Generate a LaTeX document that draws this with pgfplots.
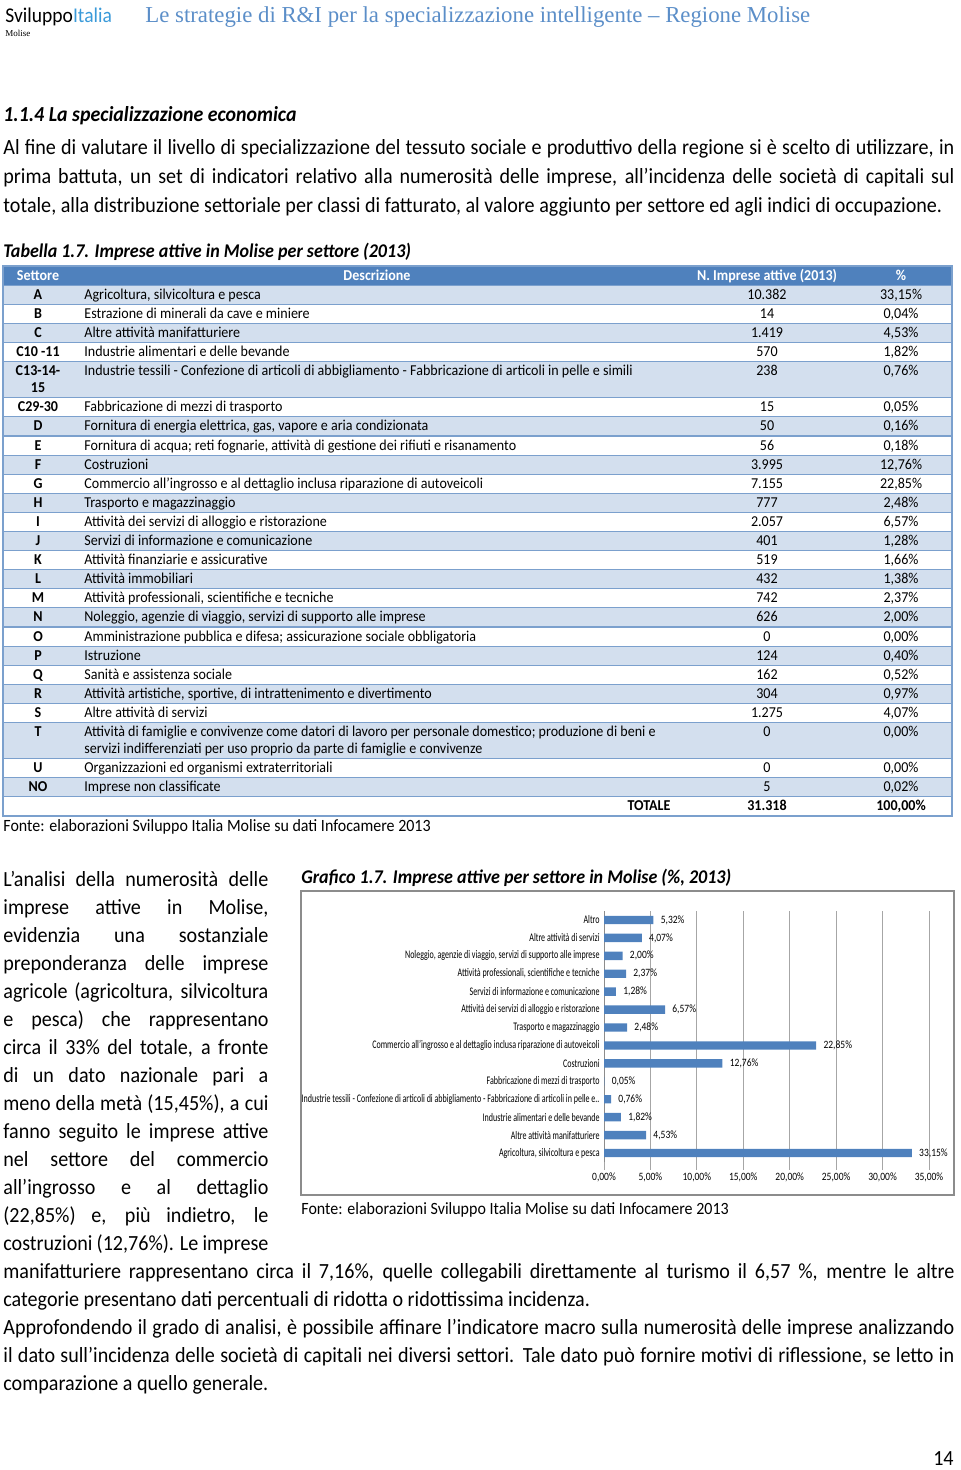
\documentclass[border=0pt]{standalone}
\usepackage{fontspec}
\setmainfont{Carlito}[FakeStretch=0.93]
\newfontfamily\chartfont{Carlito}[FakeStretch=0.69]
\newfontfamily\chartnumfont{Carlito}[FakeStretch=0.85]
\newfontfamily\seriffont{Liberation Serif}
\usepackage{pgfplots}
\usepackage{pgfplotstable}
\pgfplotsset{compat=1.18}
\definecolor{barblue}{HTML}{4F81BD}
\definecolor{bandblue}{HTML}{D3DFEE}
\definecolor{lineblue}{HTML}{7BA0CD}
\definecolor{titleblue}{HTML}{5B8EC8}
\definecolor{italiablue}{HTML}{3A9AD9}
\definecolor{framegray}{HTML}{8C8C8C}
\definecolor{gridgray}{HTML}{A6A6A6}

\newcommand\bodyfont{\fontsize{10.8pt}{12.5pt}\selectfont}
\newcommand\capfont{\fontsize{9.7pt}{11pt}\selectfont}
\newcommand\tabfont{\fontsize{7.55pt}{9pt}\selectfont}
\newcommand\fontefont{\fontsize{8.6pt}{10pt}\selectfont}
\newcommand\cfont{\chartfont\fontsize{5.8pt}{6.5pt}\selectfont}
\newcommand\cnfont{\chartnumfont\fontsize{5.6pt}{6.5pt}\selectfont}

\newcommand\jl[4]{\node[anchor=base west,inner sep=0pt,font=\bodyfont] at (#1,#2) {\makebox[#3][s]{#4}};}
\newcommand\tl[3]{\node[anchor=base west,inner sep=0pt,font=\bodyfont] at (#1,#2) {#3};}
\newcommand\trow[5]{%
  \node[anchor=base,inner sep=0pt,font=\tabfont\bfseries] at (38,#1) {#2};
  \node[anchor=base west,inner sep=0pt,font=\tabfont] at (84,#1) {#3};
  \node[anchor=base,inner sep=0pt,font=\tabfont] at (767,#1) {#4};
  \node[anchor=base,inner sep=0pt,font=\tabfont] at (901,#1) {#5};}

\pgfplotstableread{
i v
0 33.15
1 4.53
2 1.82
3 0.76
4 0.05
5 12.76
6 22.85
7 2.48
8 6.57
9 1.28
10 2.37
11 2.00
12 4.07
13 5.32
}\datatab

\begin{document}
\begin{tikzpicture}[x=0.5pt,y=-0.5pt]
\path[use as bounding box] (0,0) rectangle (960,1470);

% header
\node[anchor=base west,inner sep=0pt,font=\fontsize{10.5pt}{12pt}\selectfont] at (5,23) {Sviluppo\textcolor{italiablue}{Italia}};
\node[anchor=base west,inner sep=0pt,font=\seriffont\fontsize{4.5pt}{5pt}\selectfont] at (5,36.5) {Molise};
\node[anchor=base west,inner sep=0pt,text=titleblue,font=\seriffont\fontsize{11.4pt}{13pt}\selectfont] at (145,23) {Le strategie di R\&I per la specializzazione intelligente – Regione Molise};

% section
\node[anchor=base west,inner sep=0pt,font=\fontsize{10.7pt}{12pt}\selectfont\bfseries\itshape] at (3,121.5) {1.1.4 La specializzazione economica};
\jl{3}{154.5}{475.5pt}{Al fine di valutare il livello di specializzazione del tessuto sociale e produttivo della regione si è scelto di utilizzare, in}
\jl{3}{183.5}{475.5pt}{prima battuta, un set di indicatori relativo alla numerosità delle imprese, all’incidenza delle società di capitali sul}
\tl{3}{212.5}{totale, alla distribuzione settoriale per classi di fatturato, al valore aggiunto per settore ed agli indici di occupazione.}

\node[anchor=base west,inner sep=0pt,font=\capfont\bfseries\itshape] at (3,257.5) {Tabella 1.7. Imprese attive in Molise per settore (2013)};

% table
\fill[barblue] (3,266) rectangle (952,285.5);
\foreach \a/\b in {285.5/304.5, 323.5/342.5, 361.5/397.5, 416.5/436, 455.5/474.5, 493.5/512.5, 531.5/550.5, 569.5/588.5, 607.5/627, 646.5/665.5, 684.5/703.5, 722.5/758.5, 777.5/796.5}
  \fill[bandblue] (3,\a) rectangle (952,\b);
\foreach \y in {285.5,304.5,323.5,342.5,361.5,397.5,416.5,436,455.5,474.5,493.5,512.5,531.5,550.5,569.5,588.5,607.5,627,646.5,665.5,684.5,703.5,722.5,758.5,777.5,796.5}
  \draw[lineblue,line width=0.8pt] (3,\y) -- (952,\y);
\draw[lineblue,line width=0.8pt] (3,266) rectangle (952,816);

\begin{scope}[every node/.style={anchor=base,inner sep=0pt,text=white,font=\tabfont\bfseries}]
\node at (38,280.5) {Settore};
\node at (377,280.5) {Descrizione};
\node at (767,280.5) {N. Imprese attive (2013)};
\node at (901,280.5) {\%};
\end{scope}

\trow{299.5}{A}{Agricoltura, silvicoltura e pesca}{10.382}{33,15\%}
\trow{318.5}{B}{Estrazione di minerali da cave e miniere}{14}{0,04\%}
\trow{337.5}{C}{Altre attività manifatturiere}{1.419}{4,53\%}
\trow{356.5}{C10 -11}{Industrie alimentari e delle bevande}{570}{1,82\%}
\trow{375.5}{C13-14-}{Industrie tessili - Confezione di articoli di abbigliamento - Fabbricazione di articoli in pelle e simili}{238}{0,76\%}
\node[anchor=base,inner sep=0pt,font=\tabfont\bfseries] at (38,392.5) {15};
\trow{411.5}{C29-30}{Fabbricazione di mezzi di trasporto}{15}{0,05\%}
\trow{430.5}{D}{Fornitura di energia elettrica, gas, vapore e aria condizionata}{50}{0,16\%}
\trow{450.5}{E}{Fornitura di acqua; reti fognarie, attività di gestione dei rifiuti e risanamento}{56}{0,18\%}
\trow{469.5}{F}{Costruzioni}{3.995}{12,76\%}
\trow{488.5}{G}{Commercio all'ingrosso e al dettaglio inclusa riparazione di autoveicoli}{7.155}{22,85\%}
\trow{507.5}{H}{Trasporto e magazzinaggio}{777}{2,48\%}
\trow{526.5}{I}{Attività dei servizi di alloggio e ristorazione}{2.057}{6,57\%}
\trow{545.5}{J}{Servizi di informazione e comunicazione}{401}{1,28\%}
\trow{564.5}{K}{Attività finanziarie e assicurative}{519}{1,66\%}
\trow{583.5}{L}{Attività immobiliari}{432}{1,38\%}
\trow{602.5}{M}{Attività professionali, scientifiche e tecniche}{742}{2,37\%}
\trow{621.5}{N}{Noleggio, agenzie di viaggio, servizi di supporto alle imprese}{626}{2,00\%}
\trow{641.5}{O}{Amministrazione pubblica e difesa; assicurazione sociale obbligatoria}{0}{0,00\%}
\trow{660.5}{P}{Istruzione}{124}{0,40\%}
\trow{679.5}{Q}{Sanità e assistenza sociale}{162}{0,52\%}
\trow{698.5}{R}{Attività artistiche, sportive, di intrattenimento e divertimento}{304}{0,97\%}
\trow{717.5}{S}{Altre attività di servizi}{1.275}{4,07\%}
\trow{736.5}{T}{Attività di famiglie e convivenze come datori di lavoro per personale domestico; produzione di beni e}{0}{0,00\%}
\node[anchor=base west,inner sep=0pt,font=\tabfont] at (84,753.5) {servizi indifferenziati per uso proprio da parte di famiglie e convivenze};
\trow{772.5}{U}{Organizzazioni ed organismi extraterritoriali}{0}{0,00\%}
\trow{791.5}{NO}{Imprese non classificate}{5}{0,02\%}
\node[anchor=base,inner sep=0pt,font=\tabfont\bfseries] at (649,810.5) {TOTALE};
\node[anchor=base,inner sep=0pt,font=\tabfont\bfseries] at (767,810.5) {31.318};
\node[anchor=base,inner sep=0pt,font=\tabfont\bfseries] at (901,810.5) {100,00\%};

\node[anchor=base west,inner sep=0pt,font=\fontefont] at (3,831.5) {Fonte: elaborazioni Sviluppo Italia Molise su dati Infocamere 2013};

% left column
\jl{3}{886.5}{132.5pt}{L’analisi della numerosità delle}
\jl{3}{914.5}{132.5pt}{imprese attive in Molise,}
\jl{3}{942.5}{132.5pt}{evidenzia una sostanziale}
\jl{3}{970.5}{132.5pt}{preponderanza delle imprese}
\jl{3}{998.5}{132.5pt}{agricole (agricoltura, silvicoltura}
\jl{3}{1026.5}{132.5pt}{e pesca) che rappresentano}
\jl{3}{1054.5}{132.5pt}{circa il 33\% del totale, a fronte}
\jl{3}{1082.5}{132.5pt}{di un dato nazionale pari a}
\jl{3}{1110.5}{132.5pt}{meno della metà (15,45\%), a cui}
\jl{3}{1138.5}{132.5pt}{fanno seguito le imprese attive}
\jl{3}{1166.5}{132.5pt}{nel settore del commercio}
\jl{3}{1194.5}{132.5pt}{all’ingrosso e al dettaglio}
\jl{3}{1222.5}{132.5pt}{(22,85\%) e, più indietro, le}
\jl{3}{1250.5}{132.5pt}{costruzioni (12,76\%). Le imprese}

\jl{3}{1278.5}{475.5pt}{manifatturiere rappresentano circa il 7,16\%, quelle collegabili direttamente al turismo il 6,57 \%, mentre le altre}
\tl{3}{1306.5}{categorie presentano dati percentuali di ridotta o ridottissima incidenza.}
\jl{3}{1334.5}{475.5pt}{Approfondendo il grado di analisi, è possibile affinare l’indicatore macro sulla numerosità delle imprese analizzando}
\jl{3}{1362.5}{475.5pt}{il dato sull’incidenza delle società di capitali nei diversi settori. Tale dato può fornire motivi di riflessione, se letto in}
\tl{3}{1390.5}{comparazione a quello generale.}

\node[anchor=base east,inner sep=0pt,font=\bodyfont] at (954,1465) {14};

% chart
\node[anchor=base west,inner sep=0pt,font=\capfont\bfseries\itshape] at (301,883.5) {Grafico 1.7. Imprese attive per settore in Molise (\%, 2013)};
\draw[framegray,line width=0.6pt] (301,891) rectangle (954,1195);
\node[anchor=base west,inner sep=0pt,font=\fontefont] at (301,1214.5) {Fonte: elaborazioni Sviluppo Italia Molise su dati Infocamere 2013};

\begin{scope}[x=1cm,y=1cm]
\begin{axis}[
  at={(302pt,-581pt)}, anchor=south west,
  scale only axis, width=162.5pt, height=125.5pt,
  xmin=0, xmax=35, ymin=-0.5, ymax=13.5,
  enlargelimits=false, clip=false,
  axis x line*=bottom, axis y line*=left,
  x axis line style={draw=none},
  y axis line style={draw=framegray,-,line width=0.5pt},
  xtick={0,5,...,35},
  xticklabels={{0,00\%},{5,00\%},{10,00\%},{15,00\%},{20,00\%},{25,00\%},{30,00\%},{35,00\%}},
  xmajorgrids, grid style={gridgray,line width=0.5pt},
  tick align=outside, major tick length=4pt, minor tick length=2pt,
  xtick style={gridgray,line width=0.5pt},
  ytick={0,...,13}, ytick style={draw=none},
  minor ytick={-0.5,0.5,...,13.5},
  minor y tick style={framegray,line width=0.5pt},
  yticklabels={{Agricoltura, silvicoltura e pesca},{Altre attività manifatturiere},{Industrie alimentari e delle bevande},{Industrie tessili - Confezione di articoli di abbigliamento - Fabbricazione di articoli in pelle e..},{Fabbricazione di mezzi di trasporto},{Costruzioni},{Commercio all’ingrosso e al dettaglio inclusa riparazione di autoveicoli},{Trasporto e magazzinaggio},{Attività dei servizi di alloggio e ristorazione},{Servizi di informazione e comunicazione},{Attività professionali, scientifiche e tecniche},{Noleggio, agenzie di viaggio, servizi di supporto alle imprese},{Altre attività di servizi},{Altro}},
  yticklabel style={font=\cfont,inner sep=0pt,xshift=2pt},
  xticklabel style={font=\cnfont,inner sep=1.2pt},
]
\addplot[xbar, fill=barblue, draw=none, bar width=4.2pt, point meta=x,
  nodes near coords={\pgfmathprintnumber[fixed,fixed zerofill,precision=2,use comma,assume math mode=true]{\pgfplotspointmeta}\%},
  nodes near coords style={font=\cnfont,anchor=west,inner sep=0pt,xshift=3.5pt}]
  table[x=v,y=i] \datatab;
\end{axis}
\end{scope}
\end{tikzpicture}
\end{document}
